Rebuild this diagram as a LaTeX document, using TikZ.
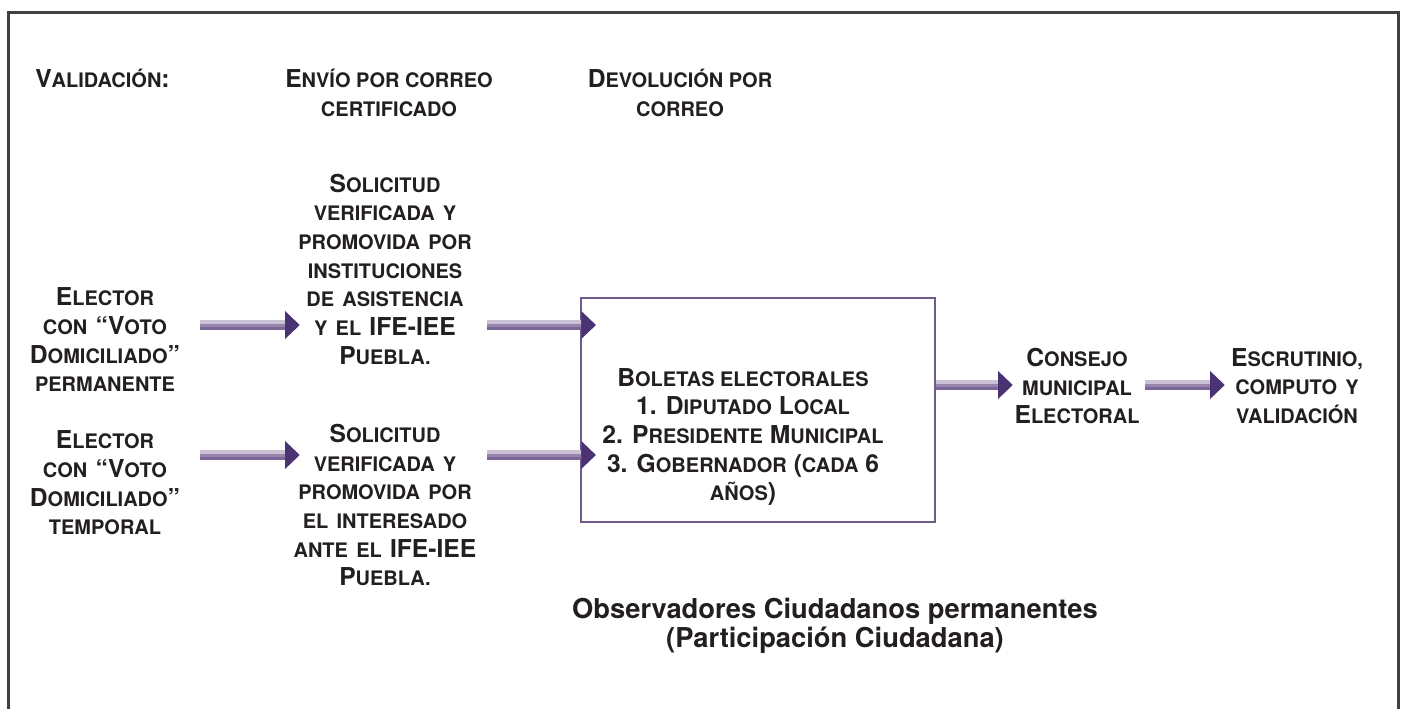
\documentclass[tikz,border=0pt]{standalone}
\usepackage{fontspec}
\setmainfont{TeX Gyre Heros}
\usepackage{xcolor}
\usepackage{tikz}
\usetikzlibrary{arrows.meta, calc}
\definecolor{textoosc}{RGB}{35,31,32}
\definecolor{morado}{RGB}{75,51,115}
\definecolor{borde}{RGB}{112,92,140}
\definecolor{eje}{RGB}{150,132,172}
\newcommand\versal[1]{{\fontsize{15}{21.5}\selectfont\MakeUppercase{#1}}}

\begin{document}
\begin{tikzpicture}[x=0.75pt, y=-0.75pt,
            texto/.style={font=\fontsize{18.5}{21.5}\selectfont\bfseries, text=textoosc, align=center, inner sep=0pt},
            caja/.style={draw=borde, line width=1.6pt, minimum width=265.5pt, minimum height=168pt, inner sep=0pt},
            marco/.style={draw=black!75, line width=2.25pt},
            flecha/.style={draw=eje, line width=7.5pt, -{Triangle[length=11pt 0 0, width=21pt 0 0, color=morado, line width=0pt]},
                postaction={draw=white, draw opacity=0.5, line width=2.5pt, -, shorten >=11pt, transform canvas={yshift=2.2pt}},
                postaction={draw=morado, draw opacity=0.35, line width=2.2pt, -, shorten >=11pt, transform canvas={yshift=-2.5pt}}}]
            \useasboundingbox (0,0) rectangle (1402,709);
            \draw[marco] (8,709) -- (8,13) -- (1398,13) -- (1398,709);

            \node[texto, anchor=west] (valid) at (35,78) {V\versal{alidación}:};
            \node[texto] (envio) at (389,93) {E\versal{nvío por correo}\\ \versal{certificado}};
            \node[texto] (devol) at (680,93) {D\versal{evolución por}\\ \versal{correo}};

            \node[texto, text width=120pt] (elec1) at (105,340) {E\versal{lector}\\ \versal{con} “V\versal{oto}\\ D\versal{omiciliado}”\\ \versal{permanente}};
            \node[texto, text width=120pt] (elec2) at (105,483) {E\versal{lector}\\ \versal{con} “V\versal{oto}\\ D\versal{omiciliado}”\\ \versal{temporal}};
            \node[texto, text width=150pt] (sol1) at (385,269) {S\versal{olicitud}\\ \versal{verificada y}\\ \versal{promovida por}\\ \versal{instituciones}\\ \versal{de asistencia}\\ \versal{y el} IFE-IEE\\ P\versal{uebla.}};
            \node[texto, text width=150pt] (sol2) at (385,505) {S\versal{olicitud}\\ \versal{verificada y}\\ \versal{promovida por}\\ \versal{el interesado}\\ \versal{ante el} IFE-IEE\\ P\versal{uebla.}};
            \node[caja] (boleta) at (758,410) {};
            \node[texto] (lista) at (743,437) {B\versal{oletas electorales}\\ 1. D\versal{iputado} L\versal{ocal}\\ 2. P\versal{residente} M\versal{unicipal}\\ 3. G\versal{obernador} (\versal{cada} 6\\ \versal{años})};
            \node[texto, text width=105pt] (consejo) at (1077,386) {C\versal{onsejo}\\ \versal{municipal}\\ E\versal{lectoral}};
            \node[texto, text width=112.5pt] (escrut) at (1297,386) {E\versal{scrutinio,}\\ \versal{computo y}\\ \versal{validación}};
            \node[texto, font=\fontsize{20.5}{22}\selectfont\bfseries] (observ) at (835,626) {Observadores Ciudadanos permanentes\\ (Participación Ciudadana)};

            \draw[flecha] ($(elec1.east)+(15,-15)$) -- ($(sol1.west |- elec1.east)+(15,-15)$);
            \draw[flecha] ($(elec2.east)+(15,-28)$) -- ($(sol2.west |- elec2.east)+(15,-28)$);
            \draw[flecha] ($(sol1.east |- elec1.east)+(2,-15)$) -- ($(boleta.west |- elec1.east)+(16,-15)$);
            \draw[flecha] ($(sol2.east |- elec2.east)+(2,-28)$) -- ($(boleta.west |- elec2.east)+(16,-28)$);
            \draw[flecha] ($(boleta.east)+(0,-25)$) -- ($(consejo.west |- boleta.east)+(6,-25)$);
            \draw[flecha] ($(consejo.east)+(-2,-1)$) -- ($(escrut.west)+(3,-1)$);
        \end{tikzpicture}
\end{document}
